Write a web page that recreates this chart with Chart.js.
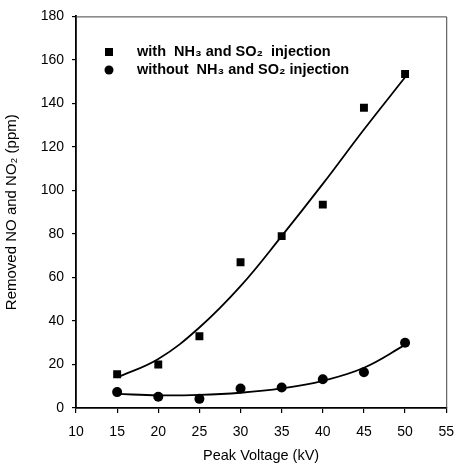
<!DOCTYPE html>
<html>
<head>
<meta charset="utf-8">
<script src="https://cdn.jsdelivr.net/npm/chart.js@4/dist/chart.umd.min.js"></script>
<style>
html,body{margin:0;padding:0;background:#fff;}
#wrap{width:465px;height:468px;position:relative;}
</style>
</head>
<body>
<div id="wrap"><canvas id="c" width="465" height="468"></canvas></div>
<script>
// Data
const voltage = [15, 20, 25, 30, 35, 40, 45, 50];
const withInjection = [15.5, 20, 33, 67, 79, 93.5, 138, 153.5];
const withoutInjection = [7.3, 5.2, 4.2, 9, 9.4, 13.2, 16.4, 30];
// fitted trend lines
const withFit = [14, 22.5, 37, 56, 79, 103, 128, 152];
const withoutFit = [6.5, 5.8, 6, 7, 9, 12.5, 18.5, 29];
const legendLabels = ['with  NH\u2083 and SO\u2082  injection', 'without  NH\u2083 and SO\u2082 injection'];
const xTitle = 'Peak Voltage (kV)';
const yTitle = 'Removed NO and NO\u2082 (ppm)';

const pts = (xs, ys) => xs.map((x, i) => ({x: x, y: ys[i]}));
const FONT = '"Liberation Sans", Arial, sans-serif';

const framePlugin = {
  id: 'frame',
  beforeDatasetsDraw(chart) {
    const {ctx, chartArea: a} = chart;
    ctx.save();
    ctx.strokeStyle = '#444';
    ctx.lineWidth = 1;
    ctx.beginPath();
    ctx.moveTo(a.left, a.top + 0.5);
    ctx.lineTo(a.right + 0.5, a.top + 0.5);
    ctx.lineTo(a.right + 0.5, a.bottom);
    ctx.stroke();
    ctx.restore();
  }
};

const legendPlugin = {
  id: 'inlegend',
  afterDatasetsDraw(chart) {
    const {ctx} = chart;
    ctx.save();
    ctx.fillStyle = '#000';
    ctx.font = 'bold 14.5px ' + FONT;
    ctx.textBaseline = 'middle';
    ctx.textAlign = 'left';
    ctx.fillRect(105, 48, 8, 8);
    ctx.fillText(legendLabels[0], 137, 52);
    ctx.beginPath();
    ctx.arc(109, 70, 4.5, 0, Math.PI * 2);
    ctx.fill();
    ctx.fillText(legendLabels[1], 137, 70);
    ctx.restore();
  }
};

new Chart(document.getElementById('c'), {
  type: 'line',
  data: {
    datasets: [
      {label: 'withFit', data: pts(voltage, withFit), borderColor: '#000', borderWidth: 1.8,
       pointRadius: 0, fill: false, tension: 0.4},
      {label: 'withoutFit', data: pts(voltage, withoutFit), borderColor: '#000', borderWidth: 1.8,
       pointRadius: 0, fill: false, tension: 0.4},
      {label: legendLabels[0], data: pts(voltage, withInjection), showLine: false,
       pointStyle: 'rect', pointRadius: 5.6, backgroundColor: '#000', borderColor: '#000', borderWidth: 0},
      {label: legendLabels[1], data: pts(voltage, withoutInjection), showLine: false,
       pointStyle: 'circle', pointRadius: 5, backgroundColor: '#000', borderColor: '#000', borderWidth: 0}
    ]
  },
  options: {
    responsive: false,
    animation: false,
    layout: {padding: {top: 12, right: 8, left: 0, bottom: 0}},
    plugins: {legend: {display: false}, tooltip: {enabled: false}},
    scales: {
      x: {
        type: 'linear', min: 10, max: 55,
        afterFit(s) { s.height = 60; },
        ticks: {stepSize: 5, color: '#000', padding: 11, font: {family: FONT, size: 14}},
        grid: {drawOnChartArea: false, drawTicks: true, tickLength: 5, color: '#000', lineWidth: 1.2},
        border: {display: true, color: '#000', width: 1.8},
        title: {display: true, text: xTitle, color: '#000', font: {family: FONT, size: 14.5}, padding: {top: 4, bottom: 3}}
      },
      y: {
        min: 0, max: 180,
        afterFit(s) { s.width = 76; },
        ticks: {stepSize: 20, color: '#000', padding: 8, font: {family: FONT, size: 14}},
        grid: {drawOnChartArea: false, drawTicks: true, tickLength: 4, color: '#000', lineWidth: 1.2},
        border: {display: true, color: '#000', width: 1.8},
        title: {display: true, text: yTitle, color: '#000', font: {family: FONT, size: 15}, padding: {top: 3, bottom: 4}}
      }
    }
  },
  plugins: [framePlugin, legendPlugin]
});
</script>
</body>
</html>
